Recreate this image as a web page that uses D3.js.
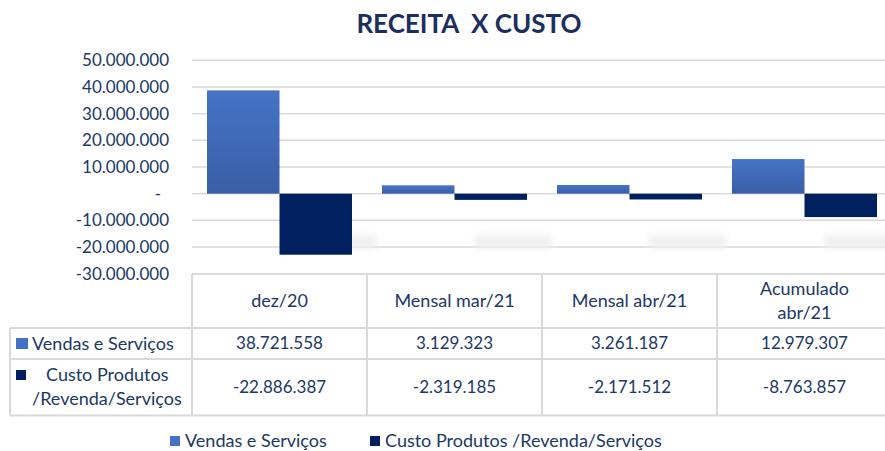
<!DOCTYPE html>
<html>
<head>
<meta charset="utf-8">
<script src="https://cdn.jsdelivr.net/npm/d3@7"></script>
<style>
  body { margin: 0; background: #fff; }
  svg { display: block; font-family: Lato, "Open Sans", sans-serif; }
</style>
</head>
<body>
<svg id="chart" width="885" height="451"></svg>
<script>
const categories = ["dez/20", "Mensal mar/21", "Mensal abr/21", "Acumulado abr/21"];
const headerLines = [["dez/20"], ["Mensal mar/21"], ["Mensal abr/21"], ["Acumulado", "abr/21"]];
const seriesNames = ["Vendas e Serviços", "Custo Produtos /Revenda/Serviços"];
const vendas = [38721558, 3129323, 3261187, 12979307];
const custo = [-22886387, -2319185, -2171512, -8763857];
const yTicks = [50e6, 40e6, 30e6, 20e6, 10e6, 0, -10e6, -20e6, -30e6];

const blue = "#4472c4", navy = "#002060";
const textColor = "#203864", gridColor = "#d9d9d9";

const ptBR = d3.formatLocale({ decimal: ",", thousands: ".", grouping: [3], currency: ["", ""], minus: "-" });
const fmt = ptBR.format(",.0f");

const svg = d3.select("#chart");
const margin = { top: 60.3, left: 192, bottom: 273.7 };

const x = d3.scaleBand().domain(categories).range([192, 892]).padding(0);
const x1 = d3.scaleBand().domain(seriesNames).range([15, 160]).padding(0);
const y = d3.scaleLinear().domain([-30e6, 50e6]).range([margin.bottom, margin.top]);
const color = d3.scaleOrdinal().domain(seriesNames).range([blue, navy]);

const defs = svg.append("defs");
const grad = defs.append("linearGradient")
  .attr("id", "blueGrad").attr("x1", 0).attr("y1", 0).attr("x2", 0).attr("y2", 1);
grad.append("stop").attr("offset", "0%").attr("stop-color", "#4673c6");
grad.append("stop").attr("offset", "100%").attr("stop-color", "#3a5ea6");
defs.append("filter").attr("id", "blur")
  .attr("x", "-50%").attr("y", "-100%").attr("width", "200%").attr("height", "300%")
  .append("feGaussianBlur").attr("stdDeviation", 3.5);

// title
svg.append("text")
  .attr("x", 469).attr("y", 33)
  .attr("text-anchor", "middle")
  .attr("font-size", 26).attr("font-weight", 700)
  .attr("fill", "#1b2f5e")
  .attr("xml:space", "preserve")
  .text("RECEITA  X CUSTO");

// gridlines
svg.append("g")
  .selectAll("line")
  .data(yTicks.filter(d => d !== -30e6))
  .join("line")
  .attr("x1", 192).attr("x2", 885)
  .attr("y1", d => y(d)).attr("y2", d => y(d))
  .attr("stroke", gridColor).attr("stroke-width", 1.5);

// y axis labels
svg.append("g")
  .attr("transform", `translate(${margin.left},0)`)
  .call(d3.axisLeft(y).tickValues(yTicks).tickSize(0).tickPadding(23)
    .tickFormat(d => d === 0 ? "-" : fmt(d)))
  .call(g => g.select(".domain").remove())
  .call(g => g.selectAll("text")
    .attr("fill", textColor)
    .attr("font-size", 17)
    .attr("font-family", "Lato, sans-serif")
    .attr("dx", d => d === 0 ? -8 : 0));

const rows = [vendas, custo];
const data = categories.map((c, i) => ({
  cat: c,
  values: seriesNames.map((s, j) => ({ key: s, value: rows[j][i] }))
}));

// soft shadows under cost bars
svg.append("g")
  .selectAll("rect")
  .data(data)
  .join("rect")
  .attr("x", d => x(d.cat) + x1(seriesNames[1]) + 20)
  .attr("width", x1.bandwidth() + 4)
  .attr("y", y(-15.5e6))
  .attr("height", y(-20.5e6) - y(-15.5e6))
  .attr("fill", "#efefef")
  .attr("filter", "url(#blur)");

// bars
svg.append("g")
  .selectAll("g")
  .data(data)
  .join("g")
  .attr("transform", d => `translate(${x(d.cat)},0)`)
  .selectAll("rect")
  .data(d => d.values)
  .join("rect")
  .attr("x", d => x1(d.key))
  .attr("width", x1.bandwidth())
  .attr("y", d => y(Math.max(0, d.value)))
  .attr("height", d => Math.abs(y(d.value) - y(0)))
  .attr("fill", d => d.key === seriesNames[0] ? "url(#blueGrad)" : navy);

// data table
const rowY = [274, 328, 359, 415.5];
const table = svg.append("g");
const border = (x1_, y1_, x2_, y2_) => table.append("line")
  .attr("x1", x1_).attr("y1", y1_).attr("x2", x2_).attr("y2", y2_)
  .attr("stroke", gridColor).attr("stroke-width", 2);

border(192, rowY[0], 892, rowY[0]);
rowY.slice(1).forEach(ry => border(10, ry, 892, ry));
border(10, rowY[1], 10, rowY[3]);
categories.forEach(c => border(x(c), rowY[0], x(c), rowY[3]));

const cellText = table.append("g")
  .attr("fill", textColor).attr("font-size", 17)
  .attr("text-anchor", "middle");

// header
categories.forEach((c, i) => {
  const lines = headerLines[i];
  const cx = x(c) + x.bandwidth() / 2;
  const mid = (rowY[0] + rowY[1]) / 2;
  lines.forEach((l, k) => {
    cellText.append("text")
      .attr("x", cx)
      .attr("y", mid + (k - (lines.length - 1) / 2) * 24)
      .attr("dy", "0.35em")
      .attr("font-size", 18)
      .text(l);
  });
});

// values
rows.forEach((r, j) => {
  const mid = (rowY[j + 1] + rowY[j + 2]) / 2;
  r.forEach((v, i) => {
    cellText.append("text")
      .attr("x", x(categories[i]) + x.bandwidth() / 2)
      .attr("y", mid)
      .attr("dy", "0.35em")
      .text(fmt(v));
  });
});

// row headers
table.append("rect").attr("x", 16).attr("y", 338).attr("width", 12).attr("height", 11).attr("fill", blue);
table.append("text").attr("x", 32).attr("y", 343.5).attr("dy", "0.35em")
  .attr("fill", textColor).attr("font-size", 18).text("Vendas e Serviços");
table.append("rect").attr("x", 16).attr("y", 370).attr("width", 10).attr("height", 10).attr("fill", navy);
table.append("text").attr("x", 46).attr("y", 375).attr("dy", "0.35em")
  .attr("fill", textColor).attr("font-size", 18).text("Custo Produtos");
table.append("text").attr("x", 32).attr("y", 399).attr("dy", "0.35em")
  .attr("fill", textColor).attr("font-size", 18).text("/Revenda/Serviços");

// legend
const legend = svg.append("g").attr("transform", "translate(0,441)");
const legendX = [170, 370];
seriesNames.forEach((s, i) => {
  legend.append("rect")
    .attr("x", legendX[i]).attr("y", -5)
    .attr("width", 10).attr("height", 10)
    .attr("fill", color(s));
  legend.append("text")
    .attr("x", legendX[i] + 15).attr("y", 0).attr("dy", "0.35em")
    .attr("fill", textColor).attr("font-size", 18)
    .text(s);
});
</script>
</body>
</html>
